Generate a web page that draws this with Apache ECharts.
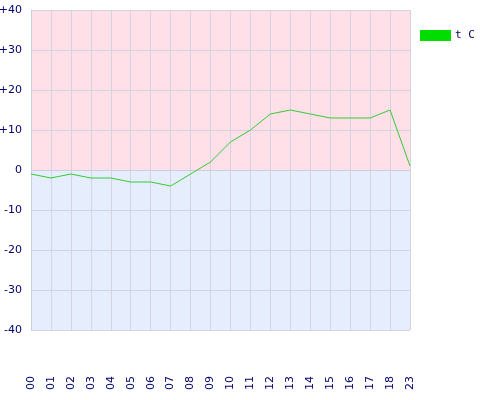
<!DOCTYPE html>
<html><head><meta charset="utf-8">
<script src="https://cdn.jsdelivr.net/npm/echarts@6/dist/echarts.min.js"></script>
<style>html,body{margin:0;padding:0;background:#fff}#c{width:480px;height:400px}</style>
</head><body><div id="c"></div>
<script>
var hours = ['00','01','02','03','04','05','06','07','08','09','10','11','12','13','14','15','16','17','18','23'];
var temps = [-1,-2,-1,-2,-2,-3,-3,-4,-1,2,7,10,14,15,14,13,13,13,15,1];
var seriesName = 't C';
var yMin = -40, yMax = 40, yStep = 10;

var chart = echarts.init(document.getElementById('c'));
chart.setOption({
  animation: false,
  backgroundColor: '#ffffff',
  grid: {left: 31, right: 70, top: 10, bottom: 70, containLabel: false, outerBoundsMode: 'none'},
  legend: {
    data: [{name: seriesName, icon: 'rect'}],
    left: 420, top: 30, orient: 'vertical', padding: 0,
    itemWidth: 31, itemHeight: 11, itemGap: 4,
    textStyle: {fontFamily: 'DejaVu Sans Mono', fontSize: 11, color: '#000060', padding: [0,0,0,-1]}
  },
  xAxis: {
    type: 'category', data: hours, boundaryGap: false,
    axisLine: {lineStyle: {color: '#c8d0e0'}},
    axisTick: {show: false},
    axisLabel: {rotate: 90, margin: 46, fontFamily: 'DejaVu Sans', fontSize: 11, color: '#000070'},
    splitLine: {show: true, lineStyle: {color: '#d4d4de', width: 1}}
  },
  yAxis: {
    type: 'value', min: yMin, max: yMax, interval: yStep,
    axisLine: {show: true, lineStyle: {color: '#c8d0e0'}},
    axisTick: {show: false},
    axisLabel: {margin: 9, fontFamily: 'DejaVu Sans', fontSize: 11, color: '#000070',
      formatter: function(v){ return v > 0 ? '+' + v : '' + v; }},
    splitLine: {show: true, lineStyle: {color: '#d4d4de', width: 1}},
    splitArea: {show: true, areaStyle: {color: ['#e6eefd','#e6eefd','#e6eefd','#e6eefd','#ffdfe8','#ffdfe8','#ffdfe8','#ffdfe8']}}
  },
  series: [{
    name: seriesName, type: 'line', data: temps,
    symbol: 'none', color: '#00dd00',
    lineStyle: {color: '#33cc33', width: 1},
    z: 5
  }]
});
</script></body></html>
